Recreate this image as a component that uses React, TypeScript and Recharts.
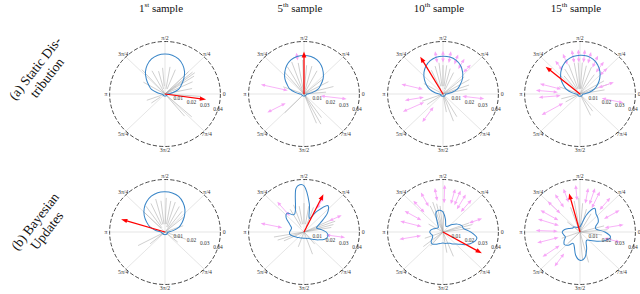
import { ComposedChart, Line, PolarAngleAxis, PolarGrid, PolarRadiusAxis, Radar, RadarChart, ReferenceDot, ReferenceLine, XAxis, YAxis } from "recharts"

// angle labels clockwise from the top, as in the reference
const ANGLE_LABELS = ["π/2", "π/4", "0", "7π/4", "3π/2", "5π/4", "π", "3π/4"]
const RADIUS_TICKS = [0.01, 0.02, 0.03, 0.04]
const SAMPLE_TITLES = [["1", "st"], ["5", "th"], ["10", "th"], ["15", "th"]]
const ROW_LABELS = [["(a) Static Dis-", "tribution"], ["(b) Bayesian", "Updates"]]

const BLUE_ANGLES = [0, 10, 20, 30, 40, 50, 60, 70, 80, 90, 100, 110, 120, 130, 140, 150, 160, 170, 180, 190, 200, 210, 220, 230, 240, 250, 260, 270, 280, 290, 300, 310, 320, 330, 340, 350]

// distribution (blue curve), one radius per angle above
const BLUE_A1 = [0.002, 0.0056, 0.0104, 0.0136, 0.0176, 0.022, 0.0256, 0.0284, 0.03, 0.0304, 0.03, 0.0284, 0.0256, 0.022, 0.0176, 0.0136, 0.0104, 0.0056, 0.0024, 0.0016, 0.0016, 0.0016, 0.0016, 0.0016, 0.0016, 0.0016, 0.0016, 0.0016, 0.0016, 0.0016, 0.0016, 0.0016, 0.0016, 0.0016, 0.0016, 0.0016]
const BLUE_A5 = [0.0024, 0.006, 0.0108, 0.014, 0.018, 0.0216, 0.025, 0.0276, 0.029, 0.0294, 0.029, 0.0276, 0.025, 0.0216, 0.018, 0.014, 0.0108, 0.006, 0.0028, 0.002, 0.0018, 0.0016, 0.0016, 0.0016, 0.0016, 0.0016, 0.0016, 0.0016, 0.0016, 0.0016, 0.0016, 0.0016, 0.0016, 0.0016, 0.0018, 0.002]
const BLUE_A10 = [0.0024, 0.0064, 0.011, 0.0144, 0.0184, 0.022, 0.0252, 0.0274, 0.0286, 0.0288, 0.0284, 0.027, 0.0246, 0.0214, 0.0176, 0.0138, 0.0102, 0.0058, 0.0026, 0.0018, 0.0018, 0.0018, 0.0018, 0.0018, 0.0018, 0.0018, 0.0018, 0.0018, 0.0018, 0.0018, 0.0018, 0.0018, 0.0018, 0.0018, 0.0018, 0.0018]
const BLUE_A15 = [0.0026, 0.0066, 0.0112, 0.0148, 0.0186, 0.0224, 0.0256, 0.028, 0.0294, 0.0296, 0.029, 0.0274, 0.0248, 0.0216, 0.018, 0.014, 0.0104, 0.006, 0.0028, 0.0018, 0.0018, 0.0018, 0.0018, 0.0018, 0.0018, 0.0018, 0.0018, 0.0018, 0.0018, 0.0018, 0.0018, 0.0018, 0.0018, 0.0018, 0.0018, 0.0018]
const BLUE_B1 = [0.0022, 0.006, 0.0108, 0.0142, 0.0182, 0.0224, 0.026, 0.0288, 0.0302, 0.0306, 0.0304, 0.029, 0.0266, 0.0234, 0.0196, 0.0154, 0.0116, 0.0068, 0.003, 0.0026, 0.0022, 0.002, 0.002, 0.002, 0.002, 0.002, 0.002, 0.002, 0.002, 0.002, 0.002, 0.002, 0.002, 0.002, 0.002, 0.0022]
const BLUE_B5 = [0.016, 0.012, 0.0096, 0.0136, 0.022, 0.0264, 0.018, 0.0112, 0.022, 0.0352, 0.0336, 0.018, 0.0152, 0.0188, 0.0168, 0.012, 0.0096, 0.0096, 0.0104, 0.0104, 0.0088, 0.0072, 0.0064, 0.0056, 0.0052, 0.0048, 0.0048, 0.0048, 0.0048, 0.0052, 0.0056, 0.0068, 0.0088, 0.012, 0.016, 0.0176]
const BLUE_B10 = [0.02, 0.0152, 0.0144, 0.012, 0.0088, 0.006, 0.0048, 0.0056, 0.01, 0.0152, 0.0168, 0.0152, 0.008, 0.0052, 0.0048, 0.0056, 0.0072, 0.0088, 0.0096, 0.0088, 0.008, 0.0088, 0.0112, 0.012, 0.0108, 0.0096, 0.0088, 0.0084, 0.0088, 0.0092, 0.01, 0.012, 0.0144, 0.0192, 0.0232, 0.0248]
const BLUE_B15 = [0.018, 0.012, 0.012, 0.0152, 0.0168, 0.018, 0.0208, 0.014, 0.006, 0.004, 0.004, 0.004, 0.004, 0.0048, 0.006, 0.006, 0.008, 0.0112, 0.0128, 0.012, 0.0112, 0.0132, 0.0148, 0.0132, 0.01, 0.012, 0.018, 0.0216, 0.02, 0.014, 0.0088, 0.008, 0.01, 0.014, 0.0192, 0.0224]

// gray sample lines: [angle deg, inner radius, outer radius]
const GRAY_A1 = [[132, 0, 0.025], [118, 0, 0.02], [105, 0.004, 0.018], [95, 0.006, 0.02], [80, 0.004, 0.021], [68, 0.004, 0.02], [45, 0, 0.024], [40, 0, 0.026], [37, 0, 0.027], [33, 0, 0.025], [25, 0, 0.022], [12, 0.004, 0.02], [-4, 0, 0.026], [-42, 0, 0.026], [-50, 0, 0.022], [200, 0, 0.014], [150, 0, 0.018], [215, 0.004, 0.012]]
const GRAY_A5 = [[130, 0, 0.022], [120, 0, 0.024], [110, 0, 0.026], [100, 0.004, 0.024], [92, 0, 0.026], [85, 0.004, 0.022], [75, 0, 0.022], [62, 0, 0.02], [40, 0, 0.018], [28, 0, 0.02], [15, 0, 0.022], [5, 0, 0.016], [-55, 0, 0.022], [-62, 0, 0.026], [-68, 0, 0.024], [226, 0, 0.02], [160, 0, 0.016]]
const GRAY_A10 = [[115, 0.004, 0.02], [105, 0.006, 0.022], [97, 0.006, 0.024], [90, 0.006, 0.022], [83, 0.006, 0.022], [75, 0.004, 0.02], [65, 0, 0.018], [40, 0, 0.02], [30, 0, 0.022], [20, 0, 0.02], [12, 0, 0.018], [-60, 0, 0.02], [-70, 0, 0.022], [-80, 0, 0.014], [200, 0, 0.016], [215, 0, 0.014], [150, 0, 0.016]]
const GRAY_A15 = [[130, 0, 0.018], [120, 0.004, 0.022], [110, 0.004, 0.024], [100, 0.004, 0.024], [93, 0.004, 0.024], [86, 0.004, 0.024], [78, 0.004, 0.022], [68, 0, 0.022], [55, 0, 0.018], [30, 0, 0.02], [20, 0, 0.022], [10, 0, 0.018], [-55, 0, 0.016], [-65, 0, 0.018], [195, 0, 0.014], [210, 0, 0.012], [160, 0, 0.016]]
const GRAY_B1 = [[135, 0.004, 0.022], [125, 0.004, 0.024], [115, 0.006, 0.024], [105, 0.006, 0.026], [97, 0.006, 0.024], [88, 0.006, 0.026], [80, 0.006, 0.024], [72, 0.004, 0.024], [62, 0.004, 0.022], [52, 0, 0.02], [40, 0, 0.018], [20, 0, 0.014], [208, 0, 0.022], [220, 0, 0.014], [-40, 0, 0.012], [-20, 0, 0.016]]
const GRAY_B5 = [[120, 0.004, 0.02], [110, 0.006, 0.022], [100, 0.006, 0.02], [90, 0.006, 0.022], [80, 0.006, 0.02], [70, 0.004, 0.02], [25, 0, 0.022], [20, 0, 0.024], [15, 0, 0.022], [10, 0, 0.02], [190, 0, 0.022], [198, 0, 0.02], [205, 0, 0.016], [250, 0, 0.012], [-70, 0, 0.018], [-50, 0, 0.012]]
const GRAY_B10 = [[115, 0, 0.022], [108, 0, 0.024], [102, 0, 0.022], [96, 0, 0.02], [88, 0, 0.016], [20, 0, 0.02], [15, 0, 0.022], [8, 0, 0.02], [200, 0, 0.014], [218, 0, 0.018], [230, 0, 0.014], [-68, 0, 0.02], [-80, 0, 0.016], [150, 0, 0.012]]
const GRAY_B15 = [[110, 0, 0.02], [100, 0, 0.024], [92, 0, 0.026], [85, 0, 0.022], [75, 0, 0.018], [60, 0, 0.016], [15, 0, 0.018], [5, 0, 0.02], [-8, 0, 0.016], [-75, 0, 0.024], [-85, 0, 0.022], [200, 0, 0.014], [225, 0, 0.012], [140, 0, 0.012]]

// pink observation arrows: [angle deg, inner radius, outer radius]
const PINK_A1: number[][] = []
const PINK_A5 = [[167, 0.012, 0.032], [208, 0.015, 0.03], [-7, 0.012, 0.031], [100, 0.026, 0.032]]
const PINK_A10 = [[100, 0.024, 0.033], [90, 0.024, 0.033], [80, 0.024, 0.033], [70, 0.024, 0.032], [60, 0.022, 0.031], [48, 0.022, 0.03], [166, 0.015, 0.031], [190, 0.014, 0.028], [205, 0.015, 0.032], [-7, 0.014, 0.03], [235, 0.012, 0.026]]
const PINK_A15 = [[125, 0.022, 0.031], [112, 0.024, 0.033], [100, 0.024, 0.034], [92, 0.024, 0.034], [84, 0.024, 0.034], [76, 0.024, 0.033], [66, 0.022, 0.032], [55, 0.02, 0.03], [45, 0.02, 0.028], [165, 0.014, 0.03], [175, 0.016, 0.032], [185, 0.014, 0.03], [210, 0.014, 0.032], [-12, 0.016, 0.032], [20, 0.014, 0.026]]
const PINK_B1: number[][] = []
const PINK_B5 = [[130, 0.016, 0.03], [62, 0.02, 0.03], [168, 0.016, 0.032], [-8, 0.016, 0.03], [25, 0.02, 0.03]]
const PINK_B10 = [[88, 0.022, 0.036], [75, 0.022, 0.034], [68, 0.022, 0.034], [60, 0.02, 0.033], [50, 0.02, 0.032], [118, 0.022, 0.034], [132, 0.02, 0.032], [150, 0.018, 0.032], [165, 0.016, 0.032], [190, 0.016, 0.032], [20, 0.02, 0.03], [100, 0.024, 0.034]]
const PINK_B15 = [[65, 0.02, 0.034], [72, 0.022, 0.035], [80, 0.022, 0.034], [95, 0.024, 0.036], [110, 0.024, 0.035], [122, 0.022, 0.034], [135, 0.02, 0.033], [150, 0.018, 0.033], [162, 0.016, 0.032], [178, 0.016, 0.032], [195, 0.016, 0.032], [215, 0.018, 0.033], [235, 0.02, 0.032], [30, 0.02, 0.033], [10, 0.018, 0.032], [-15, 0.018, 0.03], [50, 0.022, 0.034]]

// red estimate arrow: [angle deg, length]
const RED_A = [[-8, 0.03], [90, 0.0324], [120, 0.0328], [140, 0.0324]]
const RED_B = [[163, 0.0332], [64, 0.032], [-30, 0.0324], [105, 0.0304]]

const RMAX = 0.04
const R = 52.5
const S = 132
const STRETCH = 1.055 // the reference circles are a little wider than tall
const RADIUS_LABEL_ANGLE = -17
const COL_X = [165, 304, 443, 580]
const ROW_Y = [94, 232]
const LABEL_Y = [73, 226]
const SERIF = "'Liberation Serif', 'DejaVu Serif', serif"

const toXY = (deg: number, r: number) => ({
  x: r * Math.cos((deg * Math.PI) / 180),
  y: r * Math.sin((deg * Math.PI) / 180),
})

// closed catmull-rom, so the blue curve passes through the read points
function closedSpline(context: any) {
  let pts: number[][] = []
  return {
    areaStart() {},
    areaEnd() {},
    lineStart() {
      pts = []
    },
    point(x: number, y: number) {
      pts.push([x, y])
    },
    lineEnd() {
      const n = pts.length
      if (!n) return
      context.moveTo(pts[0][0], pts[0][1])
      for (let i = 0; i < n; i++) {
        const p0 = pts[(i - 1 + n) % n]
        const p1 = pts[i]
        const p2 = pts[(i + 1) % n]
        const p3 = pts[(i + 2) % n]
        context.bezierCurveTo(
          p1[0] + (p2[0] - p0[0]) / 6,
          p1[1] + (p2[1] - p0[1]) / 6,
          p2[0] - (p3[0] - p1[0]) / 6,
          p2[1] - (p3[1] - p1[1]) / 6,
          p2[0],
          p2[1]
        )
      }
      context.closePath()
    },
  }
}

const arrow = (color: string, width: number, head: number, half: number, both: boolean) => (p: any) => {
  const { x1, y1, x2, y2 } = p
  const len = Math.hypot(x2 - x1, y2 - y1) || 1
  const ux = (x2 - x1) / len
  const uy = (y2 - y1) / len
  const tri = (tx: number, ty: number, dx: number, dy: number) => {
    const bx = tx - dx * head
    const by = ty - dy * head
    return `${tx},${ty} ${bx - dy * half},${by + dx * half} ${bx + dy * half},${by - dx * half}`
  }
  return (
    <g>
      <line x1={both ? x1 + ux * head * 0.8 : x1} y1={both ? y1 + uy * head * 0.8 : y1} x2={x2 - ux * head * 0.8} y2={y2 - uy * head * 0.8} stroke={color} strokeWidth={width} />
      <polygon points={tri(x2, y2, ux, uy)} fill={color} />
      {both && <polygon points={tri(x1, y1, -ux, -uy)} fill={color} />}
    </g>
  )
}

const pinkArrow = arrow("#f7a6f7", 0.85, 4, 1.7, true)
const redArrow = arrow("#ff0000", 1.2, 6, 2.2, false)
const grayLine = (p: any) => <line x1={p.x1} y1={p.y1} x2={p.x2} y2={p.y2} stroke="#a0a0a0" strokeWidth={0.5} />

const angleTick = (p: any) => (
  <text x={p.x} y={p.y} textAnchor="middle" dominantBaseline="central" fontSize={5.5} fill="#333" fontFamily={SERIF}>
    {p.payload.value}
  </text>
)

const radiusLabel = (text: string) => (p: any) => (
  <text x={p.cx} y={p.cy} textAnchor="middle" dominantBaseline="central" fontSize={5.2} fill="#333" fontFamily={SERIF}>
    {text}
  </text>
)

const gridData = ANGLE_LABELS.map((label) => ({ label, v: 0 }))

type PanelProps = { cx: number; cy: number; blue: number[]; gray: number[][]; pink: number[][]; red: number[] }

function Panel({ cx, cy, blue, gray, pink, red }: PanelProps) {
  const curve = BLUE_ANGLES.map((a, i) => toXY(a, blue[i]))
  const m = S / 2 - R
  const tip = toXY(red[0], red[1])
  return (
    <div style={{ position: "absolute", left: cx - S / 2, top: cy - S / 2, width: S, height: S, transform: `scaleX(${STRETCH})` }}>
      <div style={{ position: "absolute", left: 0, top: 0 }}>
        <RadarChart width={S} height={S} data={gridData} outerRadius={R} cx={S / 2} cy={S / 2} margin={{ top: 0, right: 0, bottom: 0, left: 0 }} startAngle={90} endAngle={-270}>
          <PolarGrid gridType="circle" polarRadius={[]} stroke="#d4d4d4" strokeWidth={0.6} />
          <PolarGrid gridType="circle" radialLines={false} stroke="#c4c4c4" strokeWidth={0.6} strokeDasharray="1.6 1.4" />
          <PolarGrid gridType="circle" radialLines={false} polarRadius={[R]} stroke="#3a3a3a" strokeWidth={0.9} strokeDasharray="4 2" />
          <PolarAngleAxis dataKey="label" axisLine={false} tickLine={false} tickSize={3.5} tick={angleTick} />
          <PolarRadiusAxis angle={RADIUS_LABEL_ANGLE} type="number" domain={[0, RMAX]} tickCount={5} axisLine={false} tickLine={false} tick={false} />
          <Radar dataKey="v" stroke="none" fill="none" isAnimationActive={false} />
        </RadarChart>
      </div>
      <div style={{ position: "absolute", left: 0, top: 0 }}>
        <ComposedChart width={S} height={S} margin={{ top: m, right: m, bottom: m, left: m }}>
          <XAxis type="number" dataKey="x" domain={[-RMAX, RMAX]} hide allowDataOverflow />
          <YAxis type="number" dataKey="y" domain={[-RMAX, RMAX]} hide allowDataOverflow />
          {gray.map(([a, r0, r1], i) => (
            <ReferenceLine key={"g" + i} segment={[toXY(a, r0), toXY(a, r1)]} shape={grayLine} />
          ))}
          {RADIUS_TICKS.map((t) => {
            const p = toXY(RADIUS_LABEL_ANGLE, t)
            return <ReferenceDot key={"t" + t} x={p.x} y={p.y} r={0} shape={radiusLabel(t.toFixed(2))} />
          })}
          {pink.map(([a, r0, r1], i) => (
            <ReferenceLine key={"p" + i} segment={[toXY(a, r0), toXY(a, r1)]} shape={pinkArrow} />
          ))}
          <Line data={curve} dataKey="y" type={closedSpline as any} stroke="#3a86c8" strokeWidth={1} dot={false} activeDot={false} isAnimationActive={false} />
          <ReferenceLine segment={[{ x: 0, y: 0 }, tip]} shape={redArrow} />
        </ComposedChart>
      </div>
    </div>
  )
}

const BLUE = [[BLUE_A1, BLUE_A5, BLUE_A10, BLUE_A15], [BLUE_B1, BLUE_B5, BLUE_B10, BLUE_B15]]
const GRAY = [[GRAY_A1, GRAY_A5, GRAY_A10, GRAY_A15], [GRAY_B1, GRAY_B5, GRAY_B10, GRAY_B15]]
const PINK = [[PINK_A1, PINK_A5, PINK_A10, PINK_A15], [PINK_B1, PINK_B5, PINK_B10, PINK_B15]]
const RED = [RED_A, RED_B]

export default function App() {
  return (
    <div style={{ position: "absolute", left: 0, top: 0, width: 640, height: 294, background: "#fff", overflow: "hidden", fontFamily: SERIF }}>
      {SAMPLE_TITLES.map(([n, sup], i) => (
        <div key={n} style={{ position: "absolute", left: COL_X[i] - 4 - 40, top: 1, width: 80, textAlign: "center", fontSize: 11, color: "#111", whiteSpace: "nowrap" }}>
          {n}
          <sup style={{ fontSize: 7 }}>{sup}</sup> sample
        </div>
      ))}
      {ROW_LABELS.map((lines, j) => (
        <div key={j} style={{ position: "absolute", left: 41 - 60, top: LABEL_Y[j] - 15, width: 120, height: 30, textAlign: "center", fontSize: 13.5, lineHeight: "15px", color: "#111", transform: "rotate(-52deg)" }}>
          {lines[0]}
          <br />
          {lines[1]}
        </div>
      ))}
      {ROW_Y.map((cy, j) =>
        COL_X.map((cx, i) => <Panel key={j + "-" + i} cx={cx} cy={cy} blue={BLUE[j][i]} gray={GRAY[j][i]} pink={PINK[j][i]} red={RED[j][i]} />)
      )}
    </div>
  )
}
